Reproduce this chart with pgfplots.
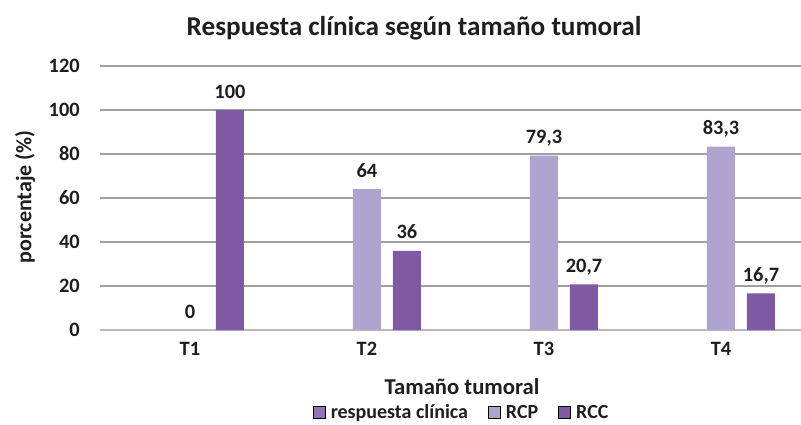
\documentclass[border=0pt]{standalone}
\usepackage{pgfplots}
\pgfplotsset{compat=1.18}
\usepackage{fontspec}
\setmainfont{Carlito}
\definecolor{rcc}{RGB}{128,89,165}
\definecolor{rcp}{RGB}{174,164,207}
\definecolor{resp}{RGB}{140,118,184}
\definecolor{txt}{RGB}{30,30,30}
\definecolor{gridc}{RGB}{160,160,160}
\definecolor{axc}{RGB}{185,185,185}
\begin{document}
\begin{tikzpicture}
\begin{axis}[
  name=ax,
  scale only axis,
  width=525.75pt, height=198pt,
  xmin=-0.508, xmax=3.452,
  ymin=0, ymax=120,
  ytick={0,20,...,120},
  xtick={0,1,2,3},
  xticklabels={T1,T2,T3,T4},
  axis x line=bottom, axis y line=left,
  x axis line style={-, draw=axc, line width=1.3pt},
  y axis line style={draw=none},
  major tick length=0pt,
  ymajorgrids,
  major grid style={draw=gridc, line width=0.8pt},
  /pgf/number format/assume math mode=true,
  /pgf/number format/use comma,
  ticklabel style={font=\bfseries\fontsize{15.3}{18}\selectfont, text=txt},
  yticklabel style={anchor=east, inner sep=0pt, xshift=-15pt},
  xticklabel style={anchor=base, inner sep=0pt, yshift=-18.75pt},
  clip=false,
  legend image code/.code={\fill[#1] (0pt,-4.3pt) rectangle (9pt,5.2pt);},
  legend style={at={(0.5164,-0.314)}, anchor=center, draw=none, fill=none,
    legend columns=3, font=\bfseries\fontsize{15}{18}\selectfont, text=txt,
    inner sep=0pt,
    /tikz/every odd column/.append style={column sep=2pt},
    /tikz/every even column/.append style={column sep=13pt}},
  legend cell align=left,
  every node near coord/.append style={font=\bfseries\fontsize{15.3}{18}\selectfont, text=txt, anchor=base, inner sep=0pt, yshift=9pt},
]
\addlegendimage{fill=resp}
\addlegendentry{respuesta clínica}
\addlegendimage{fill=rcp}
\addlegendentry{RCP}
\addlegendimage{fill=rcc}
\addlegendentry{RCC}
\addplot[ybar, bar width=21pt, bar shift=0pt, fill=rcp, draw=none, forget plot, nodes near coords]
  coordinates {(0,0) (1,64) (2,79.3) (3,83.3)};
\addplot[ybar, bar width=21pt, bar shift=30pt, fill=rcc, draw=none, forget plot, nodes near coords,
  every node near coord/.append style={xshift=30pt}]
  coordinates {(0,100) (1,36) (2,20.7) (3,16.7)};
\node[font=\bfseries\fontsize{20.4}{24}\selectfont, text=txt] at (axis description cs:0.448,1.144) {Respuesta clínica según tamaño tumoral};
\node[font=\bfseries\fontsize{16.5}{20}\selectfont, text=txt, rotate=90] at (axis description cs:-0.107,0.504) {porcentaje (\%)};
\node[font=\bfseries\fontsize{17}{20}\selectfont, text=txt] at (axis description cs:0.5164,-0.216) {Tamaño tumoral};
\end{axis}
\pgfresetboundingbox
\path ([xshift=-75pt, yshift=-71.25pt]ax.south west) rectangle ([yshift=49.5pt]ax.north east);
\end{tikzpicture}
\end{document}
